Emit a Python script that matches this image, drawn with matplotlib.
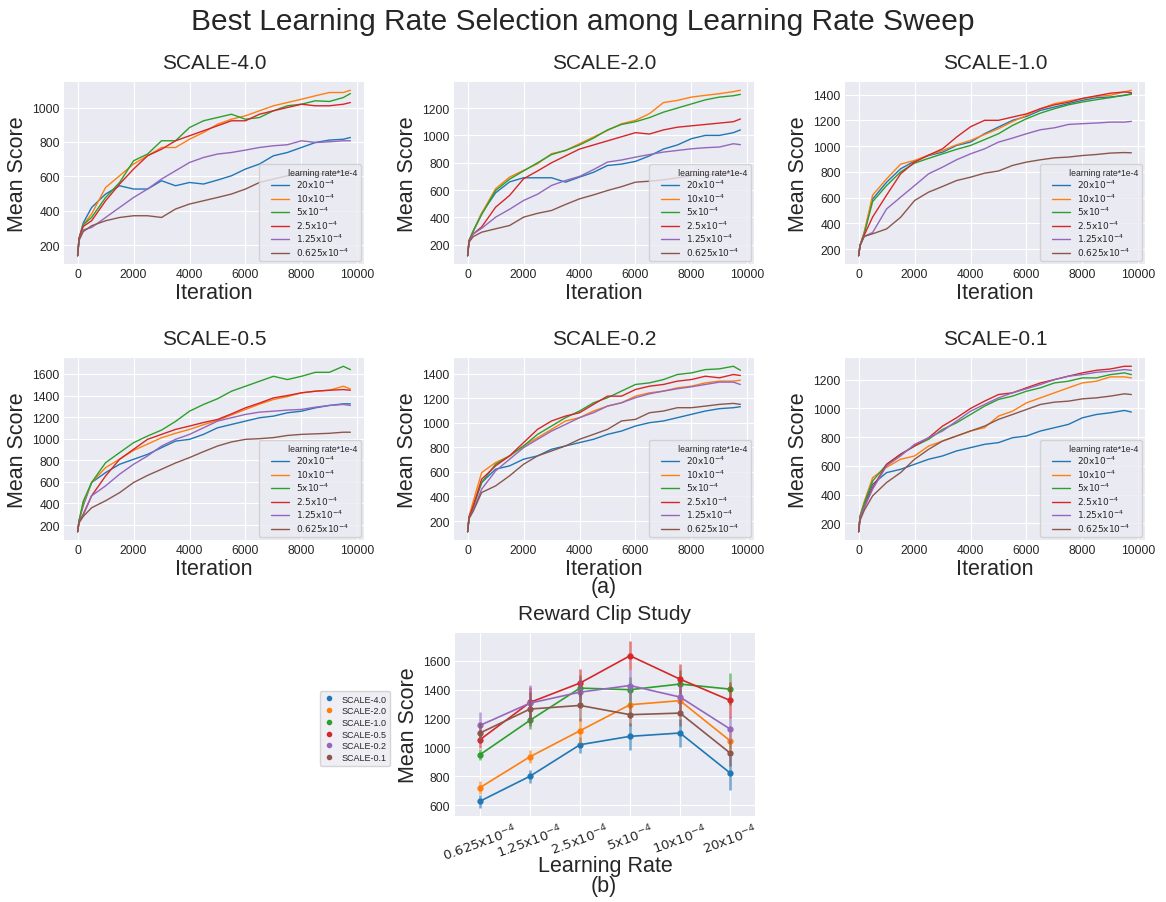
import matplotlib
matplotlib.use('Agg')
import matplotlib.pyplot as plt
from matplotlib.lines import Line2D
from matplotlib.ticker import MultipleLocator

# values
iters = [0, 50, 200, 500, 1000, 1500, 2000, 2500, 3000, 3500, 4000, 4500,
         5000, 5500, 6000, 6500, 7000, 7500, 8000, 8500, 9000, 9500, 9750]

lr_labels = [r'$20\mathrm{x}10^{-4}$', r'$10\mathrm{x}10^{-4}$', r'$5\mathrm{x}10^{-4}$',
             r'$2.5\mathrm{x}10^{-4}$', r'$1.25\mathrm{x}10^{-4}$', r'$0.625\mathrm{x}10^{-4}$']

# order of each list: lr 20, 10, 5, 2.5, 1.25, 0.625 (x1e-4)
scale_4_0 = [
    [140, 240, 330, 420, 498, 546, 527, 527, 575, 546, 565, 556, 579, 604, 643, 672, 720, 739, 768, 797, 811, 816, 826],
    [140, 240, 320, 382, 536, 604, 672, 720, 768, 768, 816, 855, 903, 932, 952, 981, 1010, 1029, 1048, 1068, 1087, 1087, 1100],
    [140, 240, 320, 362, 478, 565, 691, 730, 807, 807, 884, 923, 942, 961, 932, 942, 981, 1010, 1019, 1039, 1035, 1058, 1081],
    [140, 240, 310, 343, 459, 556, 643, 720, 758, 807, 836, 865, 894, 923, 923, 961, 981, 1000, 1019, 1010, 1010, 1019, 1029],
    [140, 230, 290, 304, 362, 420, 478, 527, 585, 633, 681, 710, 730, 739, 753, 768, 778, 784, 807, 797, 801, 807, 807],
    [140, 230, 280, 314, 343, 362, 372, 372, 362, 411, 440, 459, 478, 498, 527, 565, 585, 604, 614, 614, 619, 623, 633],
]
scale_2_0 = [
    [120, 230, 300, 430, 580, 660, 690, 690, 690, 658, 695, 730, 780, 790, 810, 850, 900, 930, 976, 1000, 1000, 1020, 1040],
    [120, 230, 300, 430, 610, 695, 744, 793, 866, 890, 939, 988, 1037, 1085, 1110, 1159, 1240, 1256, 1280, 1293, 1305, 1320, 1330],
    [120, 230, 300, 420, 597, 680, 740, 800, 860, 890, 930, 980, 1040, 1080, 1100, 1130, 1170, 1200, 1230, 1260, 1280, 1290, 1300],
    [120, 230, 280, 330, 475, 561, 683, 740, 800, 850, 900, 930, 960, 990, 1020, 1010, 1040, 1060, 1070, 1080, 1090, 1100, 1120],
    [120, 220, 280, 320, 402, 460, 524, 570, 634, 670, 700, 750, 805, 820, 841, 860, 878, 890, 902, 910, 915, 939, 932],
    [120, 220, 260, 292, 317, 341, 402, 430, 451, 495, 536, 565, 597, 625, 658, 665, 675, 690, 707, 712, 719, 722, 724],
]
scale_1_0 = [
    [150, 230, 330, 590, 720, 824, 883, 927, 953, 1005, 1031, 1096, 1148, 1200, 1230, 1277, 1303, 1329, 1355, 1375, 1381, 1393, 1407],
    [150, 230, 330, 620, 746, 860, 889, 930, 966, 1010, 1044, 1090, 1135, 1190, 1238, 1290, 1329, 1350, 1368, 1385, 1394, 1420, 1433],
    [150, 230, 320, 570, 694, 800, 868, 905, 940, 975, 1005, 1050, 1096, 1160, 1212, 1256, 1290, 1320, 1342, 1360, 1376, 1395, 1401],
    [150, 230, 310, 450, 620, 785, 876, 930, 979, 1070, 1150, 1200, 1200, 1225, 1250, 1290, 1320, 1340, 1370, 1390, 1410, 1420, 1415],
    [150, 230, 300, 330, 513, 604, 694, 785, 837, 894, 940, 979, 1031, 1062, 1096, 1127, 1142, 1168, 1174, 1179, 1186, 1186, 1192],
    [150, 230, 300, 320, 358, 448, 578, 643, 687, 733, 759, 790, 807, 850, 876, 894, 909, 915, 927, 935, 946, 950, 948],
]
scale_0_5 = [
    [138, 240, 380, 594, 686, 763, 809, 855, 917, 978, 994, 1040, 1101, 1132, 1163, 1194, 1209, 1240, 1255, 1286, 1308, 1323, 1323],
    [138, 240, 400, 594, 732, 810, 892, 950, 1009, 1050, 1086, 1130, 1169, 1220, 1271, 1320, 1363, 1390, 1425, 1440, 1449, 1486, 1461],
    [138, 240, 420, 594, 778, 871, 963, 1025, 1080, 1160, 1255, 1317, 1370, 1440, 1486, 1532, 1578, 1548, 1578, 1615, 1615, 1671, 1640],
    [138, 230, 300, 471, 655, 809, 902, 994, 1040, 1086, 1117, 1150, 1178, 1230, 1286, 1330, 1378, 1400, 1425, 1440, 1449, 1455, 1449],
    [138, 230, 290, 471, 563, 671, 763, 840, 932, 994, 1040, 1101, 1163, 1194, 1225, 1246, 1255, 1265, 1271, 1292, 1308, 1317, 1308],
    [138, 220, 280, 360, 425, 500, 594, 660, 717, 775, 825, 880, 932, 970, 994, 1000, 1010, 1030, 1040, 1045, 1050, 1060, 1060],
]
scale_0_2 = [
    [113, 230, 320, 513, 622, 649, 703, 730, 784, 811, 838, 865, 905, 932, 973, 1000, 1014, 1041, 1068, 1095, 1114, 1122, 1130],
    [113, 240, 360, 594, 676, 730, 811, 878, 946, 1014, 1041, 1095, 1135, 1162, 1216, 1243, 1257, 1284, 1297, 1324, 1338, 1338, 1346],
    [113, 230, 320, 513, 662, 730, 811, 905, 973, 1041, 1095, 1162, 1203, 1257, 1311, 1324, 1351, 1392, 1405, 1432, 1438, 1459, 1427],
    [113, 230, 320, 540, 649, 730, 838, 946, 1014, 1054, 1081, 1149, 1216, 1216, 1270, 1297, 1311, 1338, 1351, 1378, 1365, 1392, 1384],
    [113, 220, 290, 459, 608, 703, 797, 865, 932, 986, 1041, 1081, 1135, 1162, 1203, 1235, 1257, 1276, 1292, 1311, 1330, 1330, 1311],
    [113, 220, 280, 432, 486, 568, 662, 730, 770, 811, 865, 905, 946, 1014, 1027, 1081, 1095, 1122, 1122, 1135, 1149, 1157, 1149],
]
scale_0_1 = [
    [141, 240, 330, 472, 553, 576, 611, 646, 669, 704, 727, 750, 762, 796, 808, 843, 866, 889, 935, 958, 970, 986, 975],
    [141, 250, 350, 518, 590, 646, 669, 738, 773, 808, 843, 866, 947, 981, 1039, 1074, 1109, 1144, 1178, 1190, 1220, 1220, 1213],
    [141, 250, 340, 495, 610, 681, 738, 785, 854, 900, 958, 1016, 1063, 1086, 1120, 1144, 1178, 1190, 1213, 1213, 1236, 1248, 1236],
    [141, 240, 310, 449, 611, 681, 738, 796, 877, 935, 1000, 1051, 1097, 1109, 1144, 1178, 1201, 1225, 1248, 1266, 1275, 1294, 1294],
    [141, 240, 310, 437, 600, 669, 750, 796, 843, 912, 981, 1028, 1074, 1109, 1137, 1167, 1201, 1225, 1236, 1252, 1259, 1271, 1266],
    [141, 220, 290, 391, 484, 553, 646, 715, 773, 808, 843, 877, 924, 958, 993, 1028, 1044, 1051, 1067, 1074, 1086, 1102, 1097],
]
scale_titles = ['SCALE-4.0', 'SCALE-2.0', 'SCALE-1.0', 'SCALE-0.5', 'SCALE-0.2', 'SCALE-0.1']

# reward clip study: mean score per learning rate and its error bar
rate_ticks = [r'$0.625\mathrm{x}10^{-4}$', r'$1.25\mathrm{x}10^{-4}$', r'$2.5\mathrm{x}10^{-4}$',
              r'$5\mathrm{x}10^{-4}$', r'$10\mathrm{x}10^{-4}$', r'$20\mathrm{x}10^{-4}$']
clip_mean = [
    [627, 800, 1018, 1076, 1099, 823],
    [721, 935, 1115, 1295, 1323, 1046],
    [949, 1187, 1410, 1399, 1438, 1403],
    [1053, 1311, 1445, 1634, 1472, 1325],
    [1152, 1306, 1382, 1428, 1348, 1127],
    [1099, 1265, 1290, 1226, 1237, 961],
]
clip_err = [
    [45, 45, 55, 95, 95, 120],
    [45, 45, 85, 90, 80, 60],
    [40, 60, 90, 90, 100, 110],
    [60, 110, 100, 100, 105, 125],
    [95, 125, 100, 110, 90, 80],
    [70, 120, 110, 80, 90, 90],
]

plt.style.use('seaborn-v0_8-darkgrid')
plt.rcParams['font.family'] = ['Liberation Sans', 'DejaVu Sans']
plt.rcParams['mathtext.fontset'] = 'dejavusans'
colors = ['#1f77b4', '#ff7f0e', '#2ca02c', '#d62728', '#9467bd', '#8c564b']

W, H = 1166, 903
fig = plt.figure(figsize=(W / 100, H / 100), dpi=100)

lefts = [64, 454, 845]
bottoms = [265, 541]
all_scales = [scale_4_0, scale_2_0, scale_1_0, scale_0_5, scale_0_2, scale_0_1]
for i, curves in enumerate(all_scales):
    row, col = divmod(i, 3)
    ax = fig.add_axes([lefts[col] / W, 1 - bottoms[row] / H, 300 / W, 182 / H])
    for ys, lab, c in zip(curves, lr_labels, colors):
        ax.plot(iters, ys, color=c, lw=1.0, label=lab)
    ax.yaxis.set_major_locator(MultipleLocator(200))
    ax.set_title(scale_titles[i], fontsize=15, pad=10)
    ax.set_xlabel('Iteration', fontsize=15.5, labelpad=1)
    ax.set_ylabel('Mean Score', fontsize=15.5, labelpad=3)
    ax.tick_params(labelsize=8.7, pad=3)
    ax.legend(title=' ' * 11 + 'learning rate*1e-4', loc='lower right', fontsize=6.5,
              title_fontsize=6.2, borderaxespad=0.3, labelspacing=0.12,
              frameon=True, facecolor='#EAEAF2', edgecolor='0.8')

fig.text(604 / W, 1 - 588 / H, '(a)', fontsize=15.5, ha='center', va='center')

# bottom plot
ax = fig.add_axes([455 / W, 86 / H, 300 / W, 183 / H])
xpos = list(range(len(rate_ticks)))
for means, errs, c in zip(clip_mean, clip_err, colors):
    ax.errorbar(xpos, means, yerr=errs, fmt='none', ecolor=c, elinewidth=1.8, alpha=0.6)
    ax.plot(xpos, means, marker='o', ms=3.5, color=c, lw=1.2)
ax.set_xticks(xpos)
ax.set_xticklabels(rate_ticks, rotation=20, fontsize=9.5)
ax.set_xlim(-0.5, 5.5)
ax.yaxis.set_major_locator(MultipleLocator(200))
ax.tick_params(axis='y', labelsize=8.7)
ax.set_title('Reward Clip Study', fontsize=15, pad=10)
ax.set_xlabel('Learning Rate', fontsize=15.5, va='top')
ax.xaxis.set_label_coords(0.5, -0.215)
ax.set_ylabel('Mean Score', fontsize=15.5, labelpad=3)

handles = [Line2D([], [], ls='none', marker='o', ms=3, color=c) for c in colors]
fig.legend(handles, scale_titles, loc='upper right', bbox_to_anchor=(390 / W, 1 - 692 / H),
           fontsize=6.5, frameon=True, facecolor='#EAEAF2', edgecolor='0.8',
           handlelength=1.2, labelspacing=0.3, borderaxespad=0)

fig.text(604 / W, 1 - 887 / H, '(b)', fontsize=15.5, ha='center', va='center')

fig.suptitle('Best Learning Rate Selection among Learning Rate Sweep', fontsize=21.5,
             y=1 - 22 / H, va='center')

fig.savefig('out.png', dpi=100)
